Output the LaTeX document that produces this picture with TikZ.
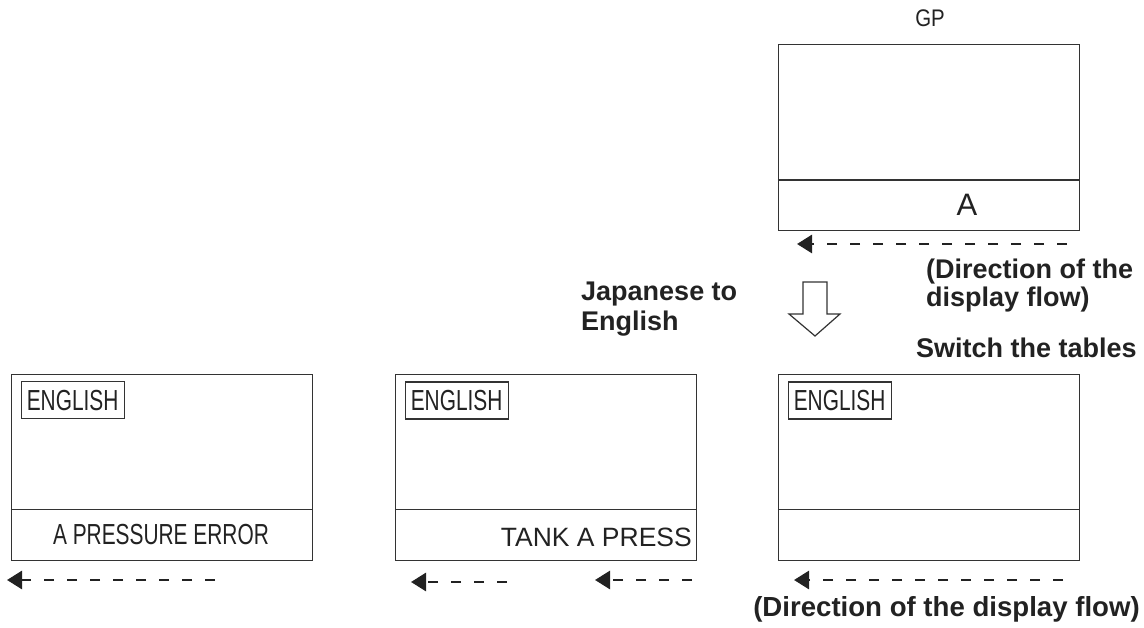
\documentclass[tikz,border=0pt]{standalone}
\usepackage{fontspec}
\setmainfont{Liberation Sans}
\newfontfamily\narrowfont[FakeStretch=0.72]{Liberation Sans}
\newfontfamily\gpfont[FakeStretch=0.85]{Liberation Sans}
\usetikzlibrary{arrows.meta,calc}
\definecolor{ln}{HTML}{333333}
\definecolor{txt}{HTML}{222222}
\begin{document}
\begin{tikzpicture}[x=1pt,y=-1pt,
  screen/.style={draw=ln, line width=1.5pt, minimum width=301pt, minimum height=186pt, inner sep=0pt, anchor=north west},
  tag/.style={draw=ln, line width=1.2pt, minimum width=103pt, minimum height=37pt, inner sep=0pt, anchor=north west, text=txt, font=\narrowfont\fontsize{29}{31}\selectfont},
  flow/.style={draw=txt, line width=2.8pt, dash pattern=on 10pt off 13pt, -{Triangle[length=15pt,width=18pt]}},
  lbl/.style={text=txt, inner sep=0pt, align=left, font=\bfseries\fontsize{27}{28}\selectfont},
  msg/.style={text=txt, inner sep=0pt}
]
\useasboundingbox (0,0) rectangle (1144,628);

% top GP screen
\node[screen] (gpbox) at (777.75,43.75) {};
\draw[ln, line width=1.5pt] ([yshift=51pt]gpbox.south west) -- ([yshift=51pt]gpbox.south east);
\node[msg, anchor=base, font=\gpfont\fontsize{24}{26}\selectfont] (gp) at (930,26.5) {GP};
\node[msg, anchor=base, font=\fontsize{31}{33}\selectfont] (atext) at (967,216) {A};
\coordinate (f0s) at (1067,244);
\coordinate (f0e) at (797,244);
\draw[flow] (f0s) -- (f0e);
\node[lbl, anchor=north west, font=\bfseries\fontsize{27}{27.6}\selectfont] (dir1) at (926,259) {(Direction of the\\display flow)};

% hollow arrow
\draw[ln, line width=1.2pt, fill=white] (803,282) -- (827,282) -- (827,314) -- (840,314) -- (815,336) -- (789,314) -- (803,314) -- cycle;

\node[lbl, anchor=north west, font=\bfseries\fontsize{27}{30}\selectfont] (jte) at (581,282) {Japanese to\\English};
\node[lbl, anchor=base west] (sw) at (916,358) {Switch the tables};

% bottom left screen
\node[screen] (L) at (10.75,373.75) {};
\draw[ln, line width=1.5pt] ([yshift=52pt]L.south west) -- ([yshift=52pt]L.south east);
\node[tag] (Ltag) at (20.5,381) {ENGLISH};
\node[msg, anchor=base, font=\narrowfont\fontsize{29}{31}\selectfont] (Lmsg) at (161,544) {A PRESSURE ERROR};
\coordinate (f1s) at (215,580);
\coordinate (f1e) at (7,580);
\draw[flow] (f1s) -- (f1e);

% bottom middle screen
\node[screen] (M) at (394.75,373.75) {};
\draw[ln, line width=1.5pt] ([yshift=52pt]M.south west) -- ([yshift=52pt]M.south east);
\node[tag] (Mtag) at (404.5,381.5) {ENGLISH};
\node[msg, anchor=base east, font=\fontsize{26.5}{28}\selectfont] (Mmsg) at (692,546) {TANK A PRESS};
\coordinate (f2s) at (507,582);
\coordinate (f2e) at (411,582);
\draw[flow] (f2s) -- (f2e);
\coordinate (f3s) at (692,580);
\coordinate (f3e) at (595,580);
\draw[flow] (f3s) -- (f3e);

% bottom right screen
\node[screen] (R) at (777.75,373.75) {};
\draw[ln, line width=1.5pt] ([yshift=52pt]R.south west) -- ([yshift=52pt]R.south east);
\node[tag] (Rtag) at (787.5,381.5) {ENGLISH};
\coordinate (f4s) at (1063,580);
\coordinate (f4e) at (794,580);
\draw[flow] (f4s) -- (f4e);
\node[lbl, anchor=base, font=\bfseries\fontsize{27.6}{29}\selectfont] (dir2) at (946.5,616) {(Direction of the display flow)};
\end{tikzpicture}
\end{document}
